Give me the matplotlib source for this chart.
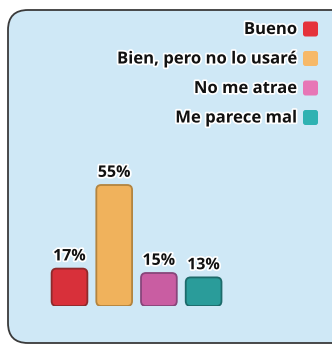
import matplotlib.pyplot as plt
import matplotlib.patheffects as pe
from matplotlib.patches import FancyBboxPatch

# respuestas de la encuesta
categorias = ['Bueno', 'Bien, pero no lo usaré', 'No me atrae', 'Me parece mal']
valores = [17, 55, 15, 13]
etiquetas = ['17%', '55%', '15%', '13%']
colores = ['#d8303a', '#f0b25c', '#c95da2', '#2a9c9a']
bordes = ['#8e2a2c', '#b3843f', '#87467a', '#1d6b6b']
colores_leyenda = ['#e5323b', '#f7b968', '#e776b6', '#2fb2b2']

plt.rcParams['font.family'] = ['Open Sans', 'DejaVu Sans']

W, H = 332, 346
fig = plt.figure(figsize=(W / 100, H / 100), dpi=100)
fig.patch.set_facecolor('white')

# fondo: recuadro azul claro con esquinas redondeadas (coordenadas en px)
bg = fig.add_axes([0, 0, 1, 1])
bg.set_xlim(0, W)
bg.set_ylim(H, 0)
bg.axis('off')
caja = FancyBboxPatch((8, 10), 345, 333, boxstyle='round,pad=0,rounding_size=20',
                      facecolor='#cfe8f6', edgecolor='#3a3a3a', linewidth=1.3)
bg.add_patch(caja)

halo = [pe.withStroke(linewidth=2.5, foreground='white')]

# leyenda a la derecha
y0, paso = 29, 29.5
for i, (cat, col) in enumerate(zip(categorias, colores_leyenda)):
    y = y0 + i * paso
    bg.text(297, y, cat, ha='right', va='center', fontsize=12,
            fontweight='bold', color='#111111', path_effects=halo)
    bg.add_patch(FancyBboxPatch((303, y - 7.5), 15, 15,
                                boxstyle='round,pad=0,rounding_size=2.5',
                                facecolor=col, edgecolor='none'))

# barras
px_x = 44.7   # px por unidad en x
px_y = 2.2    # px por unidad (%) en y
base = 306
izq = 69.5 - 0.5 * px_x
ax = fig.add_axes([izq / W, (H - base) / H, 4 * px_x / W, 60 * px_y / H])
ax.set_xlim(-0.5, 3.5)
ax.set_ylim(0, 60)
ax.axis('off')
ax.patch.set_alpha(0)

barras = ax.bar(range(4), valores, width=0.8, color='none')
for b, col, ed, txt in zip(barras, colores, bordes, etiquetas):
    r = FancyBboxPatch((b.get_x(), b.get_y()), b.get_width(), b.get_height(),
                       boxstyle='round,pad=0,rounding_size=0.11',
                       mutation_aspect=px_x / px_y,
                       facecolor=col, edgecolor=ed, linewidth=1.3)
    ax.add_patch(r)
    ax.annotate(txt, (b.get_x() + b.get_width() / 2, b.get_height()),
                xytext=(0, 3), textcoords='offset points', ha='center', va='bottom',
                fontsize=11.5, fontweight='bold', color='#111111',
                path_effects=halo)

fig.savefig('out.png', dpi=100)
